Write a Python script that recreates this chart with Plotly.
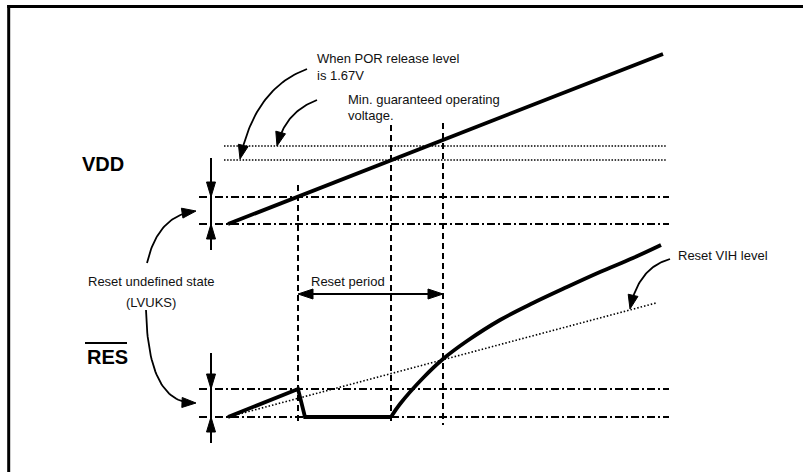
import numpy as np
import plotly.graph_objects as go

# ---------------- data (diagram units: x = time, y = level, screen-like) -------------
vdd_t = [228, 663]
vdd_v = [224, 54]

res_t_start = [228, 298, 305, 391]
res_v_start = [417, 389, 417, 417]
res_t_rise = [391, 400, 423, 443, 467, 500, 533, 567, 600, 633, 661]
res_v_rise = [417, 404, 378, 359, 341, 320, 303, 287, 272, 258, 245]

vih_t = [228, 656]
vih_v = [417, 303]

dotted_levels = [146, 160]           # POR release / min guaranteed voltage
dotted_span = [224, 667]
dashdot_levels = [197, 224, 389, 417]
dashdot_span = [199, 669]

marker_t = [298, 391, 443]
marker_top = [185, 125, 123]
marker_bottom = 425

period_y = 294
dim_x = 211
vdd_dim = (158, 197, 224, 250)
res_dim = (353, 389, 417, 443)

frame_left = 8.7
frame_top = 6.5

FONT = "Liberation Sans, Arial, Helvetica, sans-serif"
INK = "#111111"

fig = go.Figure()


def line(xs, ys, width=2, dash="solid", shape="linear"):
    fig.add_trace(go.Scatter(x=list(xs), y=list(ys), mode="lines",
                             line=dict(color="black", width=width, dash=dash, shape=shape),
                             hoverinfo="skip", showlegend=False))


def head(tip, frm, L=14, W=10):
    tx, ty = tip
    fx, fy = frm
    dx, dy = tx - fx, ty - fy
    n = np.hypot(dx, dy)
    ux, uy = dx / n, dy / n
    bx, by = tx - ux * L, ty - uy * L
    px, py = -uy, ux
    xs = [tx, bx + px * W / 2, bx - px * W / 2, tx]
    ys = [ty, by + py * W / 2, by - py * W / 2, ty]
    fig.add_trace(go.Scatter(x=xs, y=ys, mode="lines", fill="toself", fillcolor="black",
                             line=dict(color="black", width=1), hoverinfo="skip",
                             showlegend=False))


def curved_arrow(p0, c, p1, width=1.8, L=14, W=10):
    t = np.linspace(0, 1, 40)
    x = (1 - t) ** 2 * p0[0] + 2 * (1 - t) * t * c[0] + t ** 2 * p1[0]
    y = (1 - t) ** 2 * p0[1] + 2 * (1 - t) * t * c[1] + t ** 2 * p1[1]
    keep = t <= 0.9
    line(x[keep], y[keep], width=width)
    head(p1, (x[-4], y[-4]), L=L, W=W)


# reference levels
for lv in dotted_levels:
    line(dotted_span, [lv, lv], width=1.4, dash="1.5px,1.6px")
for lv in dashdot_levels:
    line(dashdot_span, [lv, lv], width=1.8, dash="8px,3px,2px,3px")

# vertical timing markers
for t, top in zip(marker_t, marker_top):
    line([t, t], [top, marker_bottom], width=2, dash="6px,4px")

# VIH dotted level
line(vih_t, vih_v, width=1.6, dash="1.5px,2px")

# signals
line(vdd_t, vdd_v, width=3.8)
line(res_t_start, res_v_start, width=3.8)
line(res_t_rise, res_v_rise, width=3.8, shape="spline")

# reset period double arrow
line([marker_t[0] + 6, marker_t[2] - 6], [period_y, period_y], width=2)
head((marker_t[0], period_y), (marker_t[2], period_y), L=15, W=10)
head((marker_t[2], period_y), (marker_t[0], period_y), L=15, W=10)

# dimension arrows
for top, a, b, bot in (vdd_dim, res_dim):
    line([dim_x, dim_x], [top, bot], width=2)
    head((dim_x, a), (dim_x, top), L=15, W=9)
    head((dim_x, b), (dim_x, bot), L=15, W=9)

# curved callout arrows
curved_arrow((307, 69), (255, 88), (240, 159))
curved_arrow((317, 100), (285, 112), (277, 146))
curved_arrow((670, 259), (638, 268), (630, 309))
curved_arrow((147, 263), (158, 215), (196, 211))
curved_arrow((146, 310), (148, 405), (196, 403))

# RES overline
line([85, 127], [343, 343], width=2)

# frame (only top and left edges fall inside the picture)
fig.add_shape(type="line", x0=frame_left - 1.5, y0=frame_top, x1=820, y1=frame_top,
              xref="x", yref="y", line=dict(color="black", width=3))
fig.add_shape(type="line", x0=frame_left, y0=frame_top - 1.5, x1=frame_left, y1=490,
              xref="x", yref="y", line=dict(color="black", width=3))


def text(x, y, s, size=13, xanchor="left", bold=False):
    fig.add_annotation(x=x, y=y, text=f"<b>{s}</b>" if bold else s, showarrow=False,
                       xref="x", yref="y", xanchor=xanchor, yanchor="middle",
                       font=dict(family=FONT, size=size, color=INK if not bold else "black"))


text(315, 58, "When POR release level")
text(315, 75, "is 1.67V")
text(346, 99, "Min. guaranteed operating")
text(346, 115, "voltage.")
text(676, 255, "Reset VIH level")
text(151, 281, "Reset undefined state", xanchor="center")
text(151, 302, "(LVUKS)", xanchor="center")
text(348, 281, "Reset period", xanchor="center")
text(80, 164, "VDD", size=20, bold=True)
text(85, 357, "RES", size=20, bold=True)

fig.update_layout(
    width=803, height=472,
    margin=dict(l=0, r=0, t=0, b=0),
    paper_bgcolor="white", plot_bgcolor="white",
    xaxis=dict(range=[0, 803], visible=False, fixedrange=True),
    yaxis=dict(range=[472, 0], visible=False, fixedrange=True),
    showlegend=False,
)

fig.write_html("out.html", config={"displayModeBar": False},
               post_script="document.body.style.margin='0';document.body.style.overflow='hidden';")
